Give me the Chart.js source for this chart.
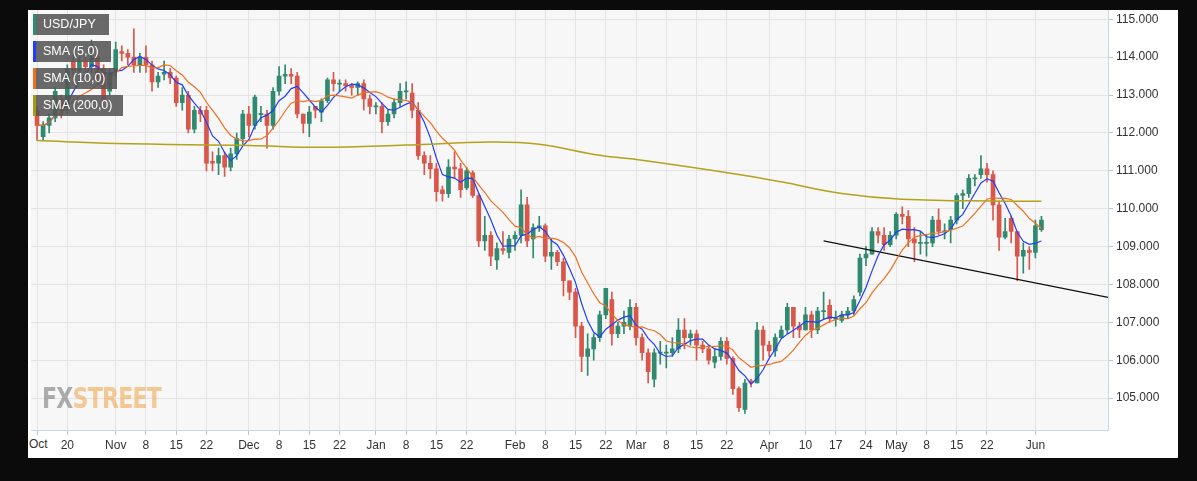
<!DOCTYPE html>
<html>
<head>
<meta charset="utf-8">
<script src="https://cdn.jsdelivr.net/npm/chart.js@4.4.1/dist/chart.umd.min.js"></script>
<style>
  body { margin: 0; background: #0b0b0b; width: 1197px; height: 481px; overflow: hidden; font-family: "Liberation Sans", Arial, sans-serif; }
  #panel { position: absolute; left: 28px; top: 10px; width: 1150px; height: 448px; background: #fff; overflow: hidden; }
  #c { position: absolute; left: 0; top: -10px; }
  .tag { position: absolute; left: 33px; height: 21px; line-height: 21px; background: rgba(85,85,85,0.88); color: #fff; font-size: 12.5px; padding-left: 10px; box-sizing: border-box; }
  .tag span { position: absolute; left: 0; top: 0; width: 3px; height: 21px; }
  #logo { position: absolute; left: 42px; top: 381px; font-family: "DejaVu Sans", sans-serif; font-weight: bold; font-size: 29px; letter-spacing: -1px; opacity: 0.6; transform: scaleX(0.76); transform-origin: left top; }
  #firstTick { position: absolute; left: 28px; top: 437px; background: #fff; color: #333; font-size: 12px; padding: 0 2px 0 1px; }
</style>
</head>
<body>
<div id="panel"><canvas id="c" width="1150" height="458"></canvas></div>
<div class="tag" style="top:14px;width:76px"><span style="background:#2f8a6f"></span>USD/JPY</div>
<div class="tag" style="top:41px;width:78px"><span style="background:#1f3cff"></span>SMA (5,0)</div>
<div class="tag" style="top:68px;width:84px"><span style="background:#f07020"></span>SMA (10,0)</div>
<div class="tag" style="top:95px;width:90px"><span style="background:#a89a10"></span>SMA (200,0)</div>
<div id="logo"><span style="color:#7a7a7a">FX</span><span style="color:#f0a850">STREET</span></div>
<div id="firstTick"></div>
<script>
// weekday slots on the x axis; candles start at slot 1 (2017-10-13)
var startDate = '2017-10-12';
var totalSlots = 179;
var firstCandle = 1;

var opens = [112.6,111.9,112.2,112.4,112.9,112.6,113.9,113.65,113.9,113.75,114.0,113.7,113.1,113.65,114.15,114.1,114.0,113.8,114.0,113.8,
  113.35,113.55,113.6,113.45,112.8,113.0,112.1,112.6,112.6,111.25,111.2,111.4,111.1,111.45,111.85,112.5,112.2,112.5,112.5,112.2,
  113.1,113.5,113.55,113.5,112.5,112.25,112.7,112.55,112.85,113.4,113.3,113.3,113.25,113.2,113.3,112.9,112.7,112.7,112.3,112.5,
  112.8,113.1,113.05,112.6,111.4,111.2,111.05,110.5,110.4,111.1,111.05,110.55,110.95,110.35,109.15,109.3,108.65,108.95,108.85,109.2,
  109.3,110.1,109.2,109.5,109.55,108.75,108.85,108.6,108.1,107.8,106.9,106.1,106.3,106.6,107.2,107.6,106.7,106.9,106.9,107.4,
  106.6,106.2,105.5,106.2,106.2,106.2,106.3,106.8,106.6,106.7,106.4,106.3,105.95,106.1,106.5,106.05,105.25,104.7,105.45,105.4,
  106.8,106.4,106.25,106.6,106.8,107.4,106.9,106.8,107.2,106.8,107.3,107.45,107.1,107.05,107.2,107.3,107.8,108.7,108.8,109.4,
  109.3,109.05,109.3,109.85,109.8,109.2,109.1,109.1,109.1,109.7,109.4,109.45,109.7,110.35,110.4,110.8,110.9,111.05,110.9,110.1,
  109.25,109.75,109.4,108.75,108.9,108.85,109.45];
var closes = [112.2,112.2,112.4,113.1,112.6,113.7,113.65,113.9,113.75,114.0,113.45,112.9,113.6,114.2,114.1,114.0,113.8,114.0,113.8,113.35,
  113.5,113.6,113.45,112.8,113.0,112.1,112.6,112.5,111.2,111.2,111.4,111.1,111.45,111.85,112.5,112.2,112.95,112.5,112.2,113.1,
  113.5,113.55,113.5,112.5,112.25,112.55,112.6,112.85,113.4,113.3,113.3,113.25,113.2,113.3,112.9,112.7,112.7,112.3,112.5,112.8,
  113.1,113.1,112.6,111.4,111.2,111.05,110.45,110.4,111.1,111.05,110.5,111.0,110.35,109.15,109.3,108.75,108.95,108.9,109.2,109.3,
  110.1,109.15,109.5,109.55,108.75,108.85,108.6,108.1,107.8,106.9,106.1,106.3,106.6,107.2,107.9,106.7,106.9,107.0,107.4,106.6,
  106.2,105.7,106.2,106.2,106.2,106.3,106.8,106.6,106.7,106.4,106.3,106.0,106.1,106.5,106.05,105.25,104.75,105.4,105.4,106.8,
  106.4,106.25,106.6,106.8,107.4,106.9,106.8,107.2,106.8,107.3,107.3,107.1,107.1,107.2,107.3,107.6,108.7,108.8,109.4,109.3,
  109.05,109.3,109.85,109.8,109.2,109.1,109.1,109.1,109.7,109.4,109.4,109.7,110.35,110.4,110.8,110.8,111.05,110.9,110.1,109.25,
  109.4,109.4,108.75,108.9,108.85,109.55,109.7];
var highs = [112.7,112.3,112.5,113.2,113.0,113.8,114.1,114.0,114.1,114.45,114.1,113.8,113.7,114.4,114.3,114.2,114.75,114.1,114.3,113.9,
  113.6,113.9,113.7,113.5,113.2,113.1,112.7,112.7,112.7,111.5,111.6,111.5,111.6,112.0,112.6,112.7,113.0,112.7,112.6,113.2,
  113.75,113.8,113.7,113.6,112.5,112.7,112.7,112.9,113.45,113.6,113.4,113.4,113.3,113.35,113.4,113.0,112.8,112.8,112.6,112.9,
  113.3,113.35,113.3,112.8,111.5,111.4,111.2,110.6,111.3,111.5,111.2,111.1,111.0,110.4,109.8,109.4,109.1,109.4,109.3,109.4,
  110.5,110.3,109.6,109.8,109.6,109.2,108.9,108.7,108.1,107.9,107.0,106.7,106.7,107.3,107.9,107.8,107.0,107.3,107.6,107.5,
  106.7,106.3,106.3,106.5,106.4,106.6,107.1,107.1,106.8,106.8,106.5,106.4,106.3,106.6,106.6,106.1,105.3,105.5,105.5,107.0,
  106.9,106.5,106.7,106.9,107.5,107.4,107.0,107.4,107.3,107.4,107.8,107.6,107.3,107.3,107.4,107.7,108.8,109.0,109.5,109.5,
  109.5,109.4,109.9,110.05,109.95,109.5,109.4,109.3,109.8,110.0,109.6,109.8,110.4,110.5,110.9,110.9,111.4,111.2,111.0,110.2,
  109.75,109.8,109.4,109.1,109.0,109.7,109.8];
var lows = [111.8,111.8,112.0,112.3,112.4,112.5,113.4,113.5,113.4,113.6,113.3,112.8,113.0,113.5,113.9,113.8,113.6,113.6,113.6,113.1,
  113.2,113.4,113.3,112.7,112.6,112.0,112.0,112.3,111.0,111.0,110.9,110.85,111.0,111.3,111.7,111.9,112.1,112.3,111.6,112.1,
  113.0,113.3,113.3,112.4,112.0,111.9,112.4,112.3,112.8,113.1,113.1,113.1,113.0,113.0,112.6,112.5,112.5,112.0,112.2,112.4,
  112.7,112.9,112.4,111.3,110.9,110.8,110.2,110.2,110.3,110.8,110.3,110.5,110.3,109.0,108.9,108.5,108.4,108.8,108.7,108.9,
  109.1,109.0,108.7,109.4,108.6,108.4,108.5,107.7,107.6,106.6,105.7,105.6,106.0,106.5,107.1,106.4,106.6,106.7,106.8,106.4,
  106.0,105.4,105.3,105.9,105.8,106.1,106.2,106.3,106.4,106.0,106.2,105.9,105.8,106.0,105.9,105.1,104.65,104.6,105.3,105.4,
  106.0,106.1,106.1,106.6,106.7,106.6,106.6,106.8,106.6,106.7,107.1,107.0,106.9,107.0,107.1,107.2,107.7,108.5,108.8,109.1,
  108.9,109.0,109.2,109.6,109.0,108.6,108.8,108.75,109.0,109.3,109.2,109.1,109.6,110.0,110.3,110.6,110.8,110.7,109.7,108.9,
  109.2,109.1,108.1,108.3,108.4,108.7,109.4];

// 200-day average at a few candles (candle index)
var sma200Idx = [0, 13, 35, 47, 61, 75, 83, 93, 100, 117, 123, 133, 143, 160, 166];
var sma200Val = [111.8, 111.72, 111.67, 111.62, 111.68, 111.76, 111.7, 111.41, 111.28, 110.88, 110.71, 110.4, 110.25, 110.2, 110.2];

// support line (candle index)
var trendIdx = [130, 177];
var trendVal = [109.15, 107.66];

var tickDates = ['2017-10-13','2017-10-20','2017-11-01','2017-11-08','2017-11-15','2017-11-22','2017-12-01','2017-12-08','2017-12-15','2017-12-22',
  '2018-01-01','2018-01-08','2018-01-15','2018-01-22','2018-02-01','2018-02-08','2018-02-15','2018-02-22','2018-03-01','2018-03-08',
  '2018-03-15','2018-03-22','2018-04-02','2018-04-10','2018-04-17','2018-04-24','2018-05-01','2018-05-08','2018-05-15','2018-05-22','2018-06-01'];
var tickTexts = ['Oct','20','Nov','8','15','22','Dec','8','15','22','Jan','8','15','22','Feb','8','15','22','Mar','8',
  '15','22','Apr','10','17','24','May','8','15','22','Jun'];

var UP = '#2f8a6f', DOWN = '#d9574a';

// weekday calendar
var days = [];
var d = new Date(startDate + 'T00:00:00Z');
while (days.length < totalSlots) {
  var wd = d.getUTCDay();
  if (wd !== 0 && wd !== 6) days.push(d.toISOString().slice(0, 10));
  d.setUTCDate(d.getUTCDate() + 1);
}
var tickMap = {};
tickDates.forEach(function(t, i) { tickMap[t] = tickTexts[i]; });
// the first label sits at the very edge; show it unclipped
document.getElementById('firstTick').textContent = tickTexts[0];

function slots(fn) {
  return days.map(function(_, s) {
    var i = s - firstCandle;
    return (i >= 0 && i < closes.length) ? fn(i) : null;
  });
}
function sma(n) {
  return slots(function(i) {
    var s = 0, k = 0;
    for (var j = Math.max(0, i - n + 1); j <= i; j++) { s += closes[j]; k++; }
    return s / k;
  });
}

var bodies = slots(function(i) {
  var o = opens[i], c = closes[i];
  if (Math.abs(c - o) < 0.03) return [o - 0.015, o + 0.015];
  return [o, c];
});
var wicks = slots(function(i) { return [lows[i], highs[i]]; });
var colors = slots(function(i) { return closes[i] >= opens[i] ? UP : DOWN; });

var s200 = days.map(function() { return null; });
sma200Idx.forEach(function(ix, i) { s200[ix + firstCandle] = sma200Val[i]; });
var trend = days.map(function() { return null; });
trendIdx.forEach(function(ix, i) { trend[ix + firstCandle] = trendVal[i]; });

var plotBg = {
  id: 'plotBg',
  beforeDraw: function(chart) {
    var a = chart.chartArea, ctx = chart.ctx;
    ctx.save();
    ctx.fillStyle = '#f7f7f7';
    ctx.fillRect(a.left, a.top, a.right - a.left, a.bottom - a.top);
    ctx.restore();
  }
};

var lineBase = { type: 'line', pointRadius: 0, fill: false, borderWidth: 1.2, spanGaps: true };

new Chart(document.getElementById('c'), {
  data: {
    labels: days,
    datasets: [
      Object.assign({}, lineBase, { data: s200, borderColor: '#b3a21a', borderWidth: 1.5, tension: 0.4, order: 0 }),
      Object.assign({}, lineBase, { data: sma(10), borderColor: '#f07020', order: 1 }),
      Object.assign({}, lineBase, { data: sma(5), borderColor: '#1f3cff', order: 2 }),
      Object.assign({}, lineBase, { data: trend, borderColor: '#111', borderWidth: 1.3, order: 3 }),
      { type: 'bar', data: bodies, backgroundColor: colors, barThickness: 4, grouped: false, order: 4 },
      { type: 'bar', data: wicks, backgroundColor: colors, barThickness: 1, grouped: false, order: 5 }
    ]
  },
  options: {
    responsive: false,
    animation: false,
    layout: { padding: 0 },
    plugins: { legend: { display: false }, tooltip: { enabled: false } },
    scales: {
      x: {
        offset: false,
        grid: {
          offset: false,
          color: function(ctx) { return ctx.tick && ctx.tick.label ? '#e4e4e4' : 'rgba(0,0,0,0)'; },
          tickColor: function(ctx) { return ctx.tick && ctx.tick.label ? '#b8c2d8' : 'rgba(0,0,0,0)'; },
          tickLength: 5
        },
        border: { color: '#ccd6eb' },
        ticks: {
          autoSkip: false, maxRotation: 0, color: '#333', font: { size: 12, family: 'Liberation Sans' }, padding: 3,
          callback: function(v) { return tickMap[days[v]] || ''; }
        },
        afterFit: function(s) { s.height = 28; }
      },
      y: {
        position: 'right',
        min: 104.16, max: 115.24,
        afterBuildTicks: function(s) {
          var t = [];
          for (var v = 105; v <= 115; v++) t.push({ value: v });
          s.ticks = t;
        },
        grid: { color: '#e4e4e4', tickLength: 5, tickColor: '#b8c2d8' },
        border: { color: '#ccd6eb' },
        ticks: { color: '#333', font: { size: 12, family: 'Liberation Sans' }, padding: 3,
          callback: function(v) { return v.toFixed(3); } },
        afterFit: function(s) { s.width = 70; }
      }
    }
  },
  plugins: [plotBg]
});
</script>
</body>
</html>
